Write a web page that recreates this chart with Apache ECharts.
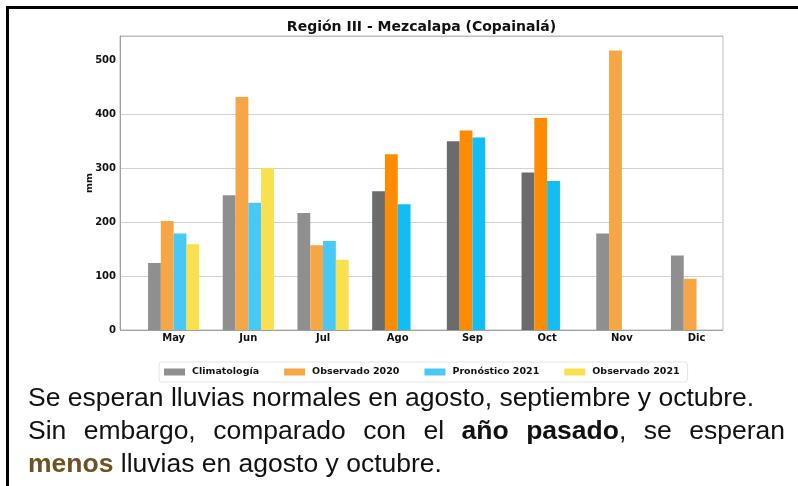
<!DOCTYPE html>
<html>
<head>
<meta charset="utf-8">
<script src="https://cdn.jsdelivr.net/npm/echarts@6/dist/echarts.min.js"></script>
<style>
  html, body { margin: 0; padding: 0; background: #fff; }
  #main { width: 798px; height: 486px; }
</style>
</head>
<body>
<div id="main"></div>
<script>
// datos (mm)
const months = ['May', 'Jun', 'Jul', 'Ago', 'Sep', 'Oct', 'Nov', 'Dic'];
const climatologia = [124, 250, 217, 257, 350, 292, 179, 138];
const observado2020 = [202, 432, 157, 326, 370, 393, 518, 95];
const pronostico2021 = [179, 236, 165, 233, 357, 276, null, null];
const observado2021 = [159, 300, 130, null, null, null, null, null];
const seriesNames = ['Climatología', 'Observado 2020', 'Pronóstico 2021', 'Observado 2021'];
const focusMonths = ['Ago', 'Sep', 'Oct'];

const lightColors = ['#8f8f8f', '#f7a646', '#48c9f5', '#fae04e'];
const darkColors = ['#6b6b6b', '#ff8c00', '#12bdf3', '#ffd700'];

const FONT = '"DejaVu Sans", sans-serif';
const TXT = '"Liberation Sans", Arial, sans-serif';
const TXT_SIZE = 26.5;

let chart = echarts.init(document.getElementById('main'));

function buildData (arr, k) {
  return months.map(function (m, i) {
    if (arr[i] == null) return '-';
    if (focusMonths.indexOf(m) >= 0) {
      return { value: arr[i], itemStyle: { color: darkColors[k] } };
    }
    return arr[i];
  });
}

// medir texto para justificar la segunda linea
const ctx = document.createElement('canvas').getContext('2d');
function textW (t, bold) {
  ctx.font = (bold ? 'bold ' : '') + TXT_SIZE + 'px ' + TXT;
  return ctx.measureText(t).width;
}

const textLeft = 28, textRight = 785;
const lineTop = [385, 418, 451];
let graphics = [
  // marco exterior
  { type: 'line', shape: { x1: 7.5, y1: 6, x2: 7.5, y2: 486 }, style: { stroke: '#000', lineWidth: 3 } },
  { type: 'line', shape: { x1: 6, y1: 7.5, x2: 798, y2: 7.5 }, style: { stroke: '#000', lineWidth: 3 } },
  { type: 'text', left: textLeft, top: lineTop[0],
    style: { text: 'Se esperan lluvias normales en agosto, septiembre y octubre.', font: TXT_SIZE + 'px ' + TXT, fill: '#111' } }
];

// linea 2 justificada
const words2 = [
  [{ t: 'Sin' }], [{ t: 'embargo,' }], [{ t: 'comparado' }], [{ t: 'con' }], [{ t: 'el' }],
  [{ t: 'año', b: true }], [{ t: 'pasado', b: true }, { t: ',' }], [{ t: 'se' }], [{ t: 'esperan' }]
];
let total = 0;
words2.forEach(function (w) { w.forEach(function (r) { r.w = textW(r.t, r.b); total += r.w; }); });
const gap = (textRight - textLeft - total) / (words2.length - 1);
let x = textLeft;
words2.forEach(function (w) {
  w.forEach(function (r) {
    graphics.push({ type: 'text', left: x, top: lineTop[1],
      style: { text: r.t, font: (r.b ? 'bold ' : '') + TXT_SIZE + 'px ' + TXT, fill: '#111' } });
    x += r.w;
  });
  x += gap;
});

// linea 3
const menosW = textW('menos', true);
graphics.push({ type: 'text', left: textLeft, top: lineTop[2],
  style: { text: 'menos', font: 'bold ' + TXT_SIZE + 'px ' + TXT, fill: '#6e5224' } });
graphics.push({ type: 'text', left: textLeft + menosW, top: lineTop[2],
  style: { text: ' lluvias en agosto y octubre.', font: TXT_SIZE + 'px ' + TXT, fill: '#111' } });

const allSeries = [climatologia, observado2020, pronostico2021, observado2021];

let option = {
  animation: false,
  backgroundColor: '#fff',
  title: {
    text: 'Región III - Mezcalapa (Copainalá)',
    left: 421.5,
    top: 20,
    textAlign: 'center',
    padding: 0,
    textStyle: { fontFamily: FONT, fontWeight: 'bold', fontSize: 14, color: '#111' }
  },
  legend: {
    data: seriesNames,
    left: 159,
    top: 362,
    padding: [5, 8, 5, 5],
    itemWidth: 21,
    itemHeight: 7,
    itemGap: 25,
    icon: 'rect',
    borderColor: '#e4e4e4',
    borderWidth: 1,
    borderRadius: 3,
    textStyle: { fontFamily: FONT, fontWeight: 'bold', fontSize: 9.5, color: '#111', padding: [0, 0, 0, 2] }
  },
  grid: [
    { left: 120, top: 36, width: 603, height: 294, show: true, borderColor: '#bdbdbd', borderWidth: 1, backgroundColor: '#fff' },
    { left: 136.3, top: 36, width: 597.6, height: 294 }
  ],
  xAxis: [
    { type: 'value', gridIndex: 0, min: 0, max: 1, show: false },
    {
      type: 'category', gridIndex: 1, data: months,
      axisLine: { show: false }, axisTick: { show: false },
      axisLabel: { fontFamily: FONT, fontWeight: 'bold', fontSize: 10, color: '#111', margin: 3 }
    }
  ],
  yAxis: [
    {
      type: 'value', gridIndex: 0, min: 0, max: 545, interval: 100,
      name: 'mm', nameLocation: 'middle', nameGap: 25, nameMoveOverlap: false,
      nameTextStyle: { fontFamily: FONT, fontWeight: 'bold', fontSize: 9.5, color: '#111' },
      axisLine: { show: true, lineStyle: { color: '#a0a0a0' } },
      axisTick: { show: false },
      axisLabel: { fontFamily: FONT, fontWeight: 'bold', fontSize: 10, color: '#111', margin: 4, showMaxLabel: false },
      splitLine: { show: true, lineStyle: { color: ['#a0a0a0', '#d2d2d2', '#d2d2d2', '#d2d2d2', '#d2d2d2', 'rgba(0,0,0,0)', '#bdbdbd'] } }
    },
    { type: 'value', gridIndex: 1, min: 0, max: 545, show: false }
  ],
  series: allSeries.map(function (arr, k) {
    return {
      name: seriesNames[k],
      type: 'bar',
      xAxisIndex: 1,
      yAxisIndex: 1,
      barWidth: 12.8,
      barGap: '0%',
      itemStyle: { color: lightColors[k] },
      data: buildData(arr, k)
    };
  }),
  graphic: graphics
};

chart.setOption(option);
</script>
</body>
</html>
